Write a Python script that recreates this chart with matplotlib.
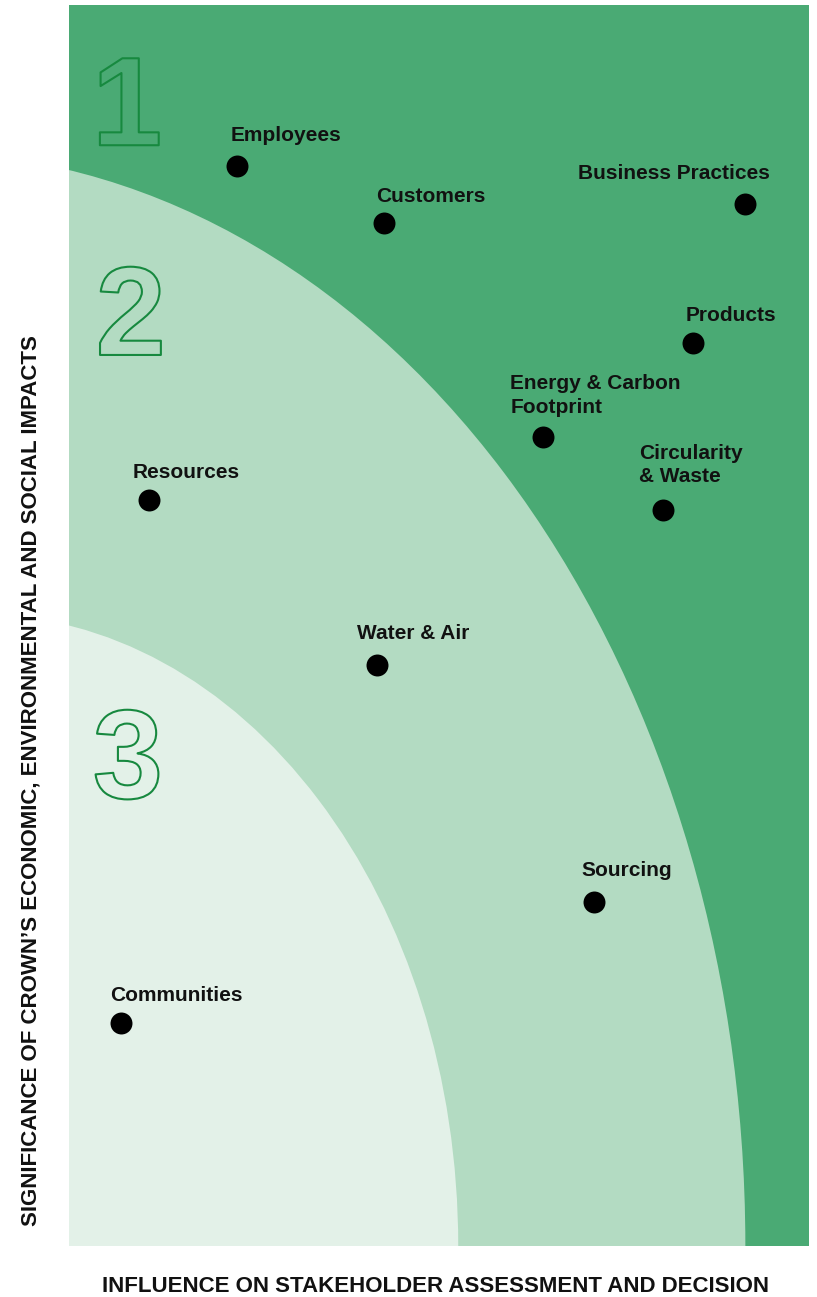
import numpy as np
import matplotlib
matplotlib.use('Agg')
import matplotlib.pyplot as plt
from matplotlib.patches import Ellipse
import matplotlib.patheffects as pe

plt.rcParams['font.family'] = ['Liberation Sans', 'DejaVu Sans']

# topics on the materiality matrix (0-100 scale)
topics = ['Employees', 'Customers', 'Business Practices', 'Products',
          'Energy & Carbon\nFootprint', 'Circularity\n& Waste', 'Resources',
          'Water & Air', 'Sourcing', 'Communities']
influence = [22.7, 42.6, 91.4, 84.3, 64.1, 80.3, 10.8, 41.6, 70.9, 7.0]
significance = [87.0, 82.4, 84.0, 72.8, 65.2, 59.3, 60.1, 46.8, 27.7, 18.0]

# zone boundaries: where each band meets the axes (x intercept, y intercept)
zone_names = ['1', '2', '3']
zone_x_edge = [91.4, 52.6]
zone_y_edge = [86.7, 50.0]

# label offsets in pixels (dx, baseline above the dot) and alignment
label_dx = [-6, -8, 25, -7, -33, -24, -16, -20, -12, -11]
label_dy = [25, 21, 25, 22, 24, 28, 22, 26, 26, 22]
label_ha = ['left', 'left', 'right', 'left', 'left', 'left', 'left', 'left', 'left', 'left']

dark = '#4aaa74'
mid = '#b3dbc2'
light = '#e3f1e8'
outline = '#17893f'


def band(x0, y0, cx):
    # ellipse centred on the bottom edge, left of the axes, through (0, y0) and (x0, 0)
    a = x0 - cx
    b = y0 / np.sqrt(1 - (cx / a) ** 2)
    return 2 * a, 2 * b, (cx, 0)


fig = plt.figure(figsize=(8.17, 12.97), dpi=100)
ax = fig.add_axes([69 / 817, 51 / 1297, 740 / 817, 1241 / 1297])
ax.set_xlim(0, 100)
ax.set_ylim(0, 100)
ax.set_facecolor(dark)

for (x0, y0, cx, col) in [(zone_x_edge[0], zone_y_edge[0], -20, mid),
                          (zone_x_edge[1], zone_y_edge[1], -12, light)]:
    w, h, c = band(x0, y0, cx)
    ax.add_patch(Ellipse(c, w, h, facecolor=col, edgecolor='none', zorder=1))

# big outlined zone numbers
for name, (zx, zy) in zip(zone_names, [(3.1, 88.7), (3.6, 71.8), (3.2, 36.1)]):
    ax.text(zx, zy, name, fontsize=91, fontweight='bold', color='none',
            ha='left', va='baseline', zorder=2,
            path_effects=[pe.Stroke(linewidth=1.5, foreground=outline)])

ax.scatter(influence, significance, s=250, color='black', zorder=3, linewidths=0)

for t, xv, yv, dx, dy, ha in zip(topics, influence, significance, label_dx, label_dy, label_ha):
    ax.annotate(t, (xv, yv), xytext=(dx, dy), textcoords='offset pixels',
                ha=ha, va='baseline', fontsize=15, fontweight='bold',
                color='#111111', linespacing=1.3, zorder=4)

for s in ax.spines.values():
    s.set_visible(False)
ax.set_xticks([])
ax.set_yticks([])

fig.text(435.5 / 817, 1 - 1287 / 1297, 'INFLUENCE ON STAKEHOLDER ASSESSMENT AND DECISION',
         ha='center', va='center', fontsize=16, fontweight='bold', color='#111111')
fig.text(31 / 817, 1 - 781 / 1297,
         "SIGNIFICANCE OF CROWN\u2019S ECONOMIC, ENVIRONMENTAL AND SOCIAL IMPACTS",
         ha='center', va='center', rotation=90, fontsize=16, fontweight='bold', color='#111111')

fig.savefig('out.png', dpi=100, facecolor='white')
